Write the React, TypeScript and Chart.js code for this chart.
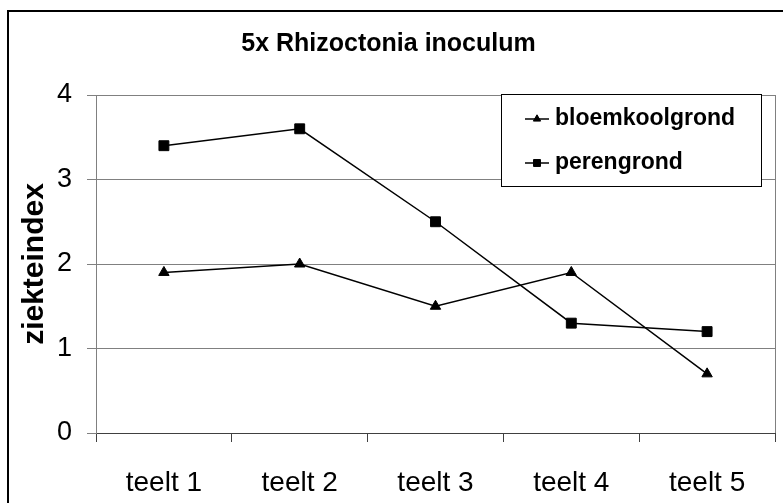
import React, { useEffect, useRef } from 'react';
import { Chart, registerables } from 'chart.js';
import { drawPoint } from 'chart.js/helpers';

Chart.register(...registerables);

const categories = ['teelt 1', 'teelt 2', 'teelt 3', 'teelt 4', 'teelt 5'];
const bloemkoolgrond = [1.9, 2.0, 1.5, 1.9, 0.7];
const perengrond = [3.4, 3.6, 2.5, 1.3, 1.2];
const seriesNames = ['bloemkoolgrond', 'perengrond'];
const yTicks = [0, 1, 2, 3, 4];
const chartTitle = '5x Rhizoctonia inoculum';
const yTitle = 'ziekteindex';

const FAMILY = "'Liberation Sans', Arial, sans-serif";

const boxLegend = {
  id: 'boxLegend',
  beforeDatasetsDraw(chart: any) {
    const { ctx, chartArea } = chart;
    ctx.save();
    ctx.strokeStyle = '#808080';
    ctx.lineWidth = 1;
    const x = Math.round(chartArea.right) + 0.5;
    ctx.beginPath();
    ctx.moveTo(x, chartArea.top);
    ctx.lineTo(x, chartArea.bottom);
    ctx.stroke();
    ctx.restore();
  },
  afterDatasetsDraw(chart: any) {
    const { ctx, chartArea } = chart;
    const left = Math.round(chartArea.right) - 274;
    const top = Math.round(chartArea.top) - 1;
    const w = 260;
    const h = 92;
    ctx.save();
    ctx.fillStyle = '#ffffff';
    ctx.fillRect(left, top, w, h);
    ctx.strokeStyle = '#000000';
    ctx.lineWidth = 1;
    ctx.strokeRect(left + 0.5, top + 0.5, w, h);
    chart.data.datasets.forEach((ds: any, i: number) => {
      const y = top + 25 + i * 44;
      ctx.strokeStyle = ds.borderColor;
      ctx.lineWidth = 1.5;
      ctx.beginPath();
      ctx.moveTo(left + 24, y);
      ctx.lineTo(left + 48, y);
      ctx.stroke();
      ctx.fillStyle = ds.pointBackgroundColor;
      ctx.strokeStyle = ds.borderColor;
      ctx.lineWidth = 1;
      drawPoint(ctx, { pointStyle: ds.pointStyle, radius: ds.pointRadius * 0.7, borderWidth: 1, rotation: 0 } as any, left + 36, y);
      ctx.fillStyle = '#000000';
      ctx.font = `bold 23px ${FAMILY}`;
      ctx.textBaseline = 'middle';
      ctx.textAlign = 'left';
      ctx.fillText(ds.label, left + 54, y);
    });
    ctx.restore();
  },
};

export default function App() {
  const ref = useRef<HTMLCanvasElement | null>(null);

  useEffect(() => {
    if (!ref.current) return;
    Chart.defaults.font.family = FAMILY;
    const chart = new Chart(ref.current, {
      type: 'line',
      data: {
        labels: categories,
        datasets: [
          {
            label: seriesNames[0],
            data: bloemkoolgrond,
            borderColor: '#000000',
            backgroundColor: '#000000',
            borderWidth: 1.5,
            pointStyle: 'triangle',
            pointRadius: 6,
            pointBorderWidth: 1,
            pointBackgroundColor: '#000000',
            pointBorderColor: '#000000',
            tension: 0,
          },
          {
            label: seriesNames[1],
            data: perengrond,
            borderColor: '#000000',
            backgroundColor: '#000000',
            borderWidth: 1.5,
            pointStyle: 'rect',
            pointRadius: 7,
            pointBorderWidth: 1,
            pointBackgroundColor: '#000000',
            pointBorderColor: '#000000',
            tension: 0,
          },
        ],
      },
      options: {
        responsive: false,
        animation: false,
        layout: { padding: { left: 0, right: 6, top: 0, bottom: 0 } },
        plugins: {
          legend: { display: false },
          tooltip: { enabled: false },
          title: {
            display: true,
            text: chartTitle,
            color: '#000000',
            font: { size: 25, weight: 'bold', family: FAMILY },
            padding: { top: 29, bottom: 36 },
          },
        },
        scales: {
          x: {
            offset: true,
            grid: {
              offset: true,
              drawOnChartArea: false,
              drawTicks: true,
              tickLength: 9,
              color: '#404040',
            },
            border: { display: true, color: '#404040', width: 1 },
            ticks: {
              color: '#000000',
              font: { size: 28, family: FAMILY },
              padding: 24,
              maxRotation: 0,
              autoSkip: false,
            },
            afterFit: (s: any) => {
              s.height = 70;
            },
          },
          y: {
            min: 0,
            max: 4,
            afterBuildTicks: (s: any) => {
              s.ticks = yTicks.map((v) => ({ value: v }));
            },
            ticks: {
              color: '#000000',
              font: { size: 27, family: FAMILY },
              padding: 15,
            },
            grid: { color: '#808080', tickLength: 9, drawTicks: true },
            border: { display: true, color: '#808080' },
            title: {
              display: true,
              text: yTitle,
              color: '#000000',
              font: { size: 30, weight: 'bold', family: FAMILY },
              padding: { top: 17, bottom: 0 },
            },
            afterFit: (s: any) => {
              s.width = 96;
            },
          },
        },
      },
      plugins: [boxLegend],
    });
    return () => chart.destroy();
  }, []);

  return (
    <div
      style={{
        position: 'absolute',
        left: 0,
        top: 0,
        width: 783,
        height: 503,
        overflow: 'hidden',
        background: '#ffffff',
      }}
    >
      <div
        style={{
          position: 'absolute',
          left: 7,
          top: 10,
          width: 900,
          height: 700,
          border: '2px solid #000000',
        }}
      />
      <canvas
        ref={ref}
        width={783}
        height={503}
        style={{ position: 'absolute', left: 0, top: 0, width: 783, height: 503 }}
      />
    </div>
  );
}
